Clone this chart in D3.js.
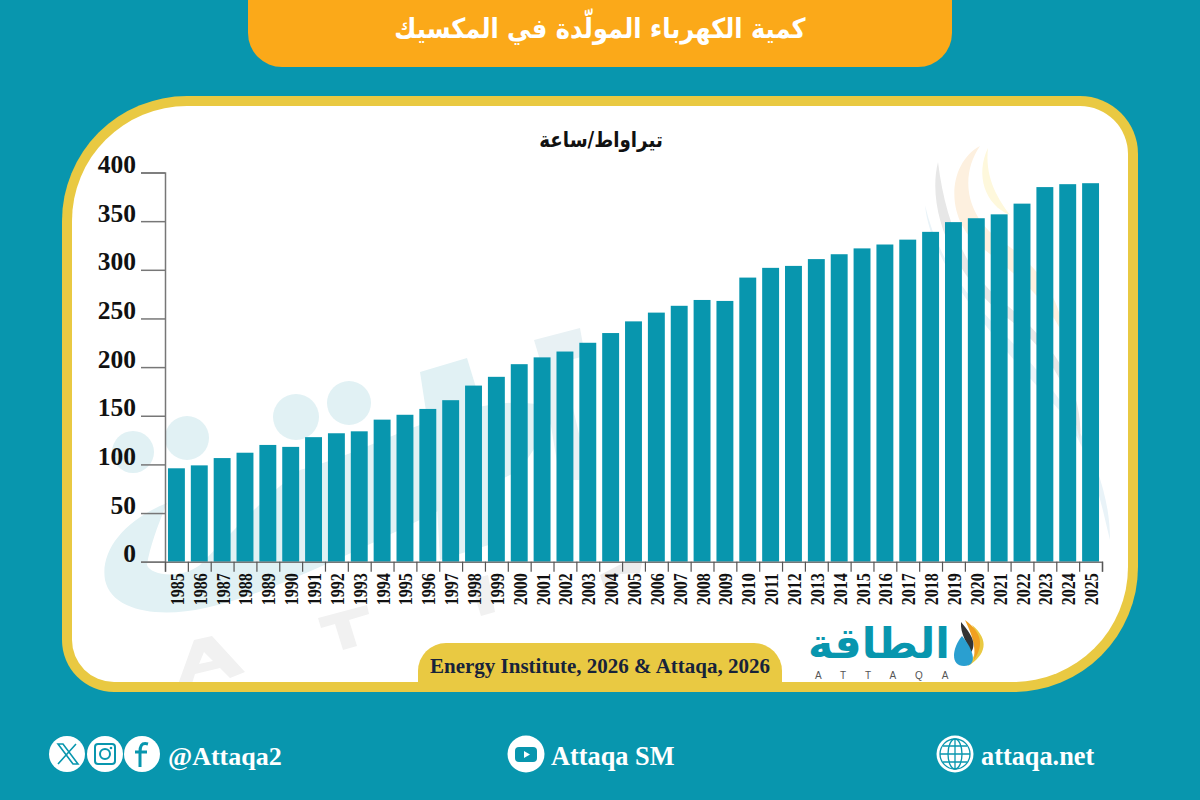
<!DOCTYPE html>
<html lang="ar">
<head>
<meta charset="utf-8">
<title>كمية الكهرباء المولّدة في المكسيك</title>
<script src="https://cdn.jsdelivr.net/npm/d3@7"></script>
<style>
  html, body { margin: 0; padding: 0; background: #0896ae; }
  svg { display: block; }
  .serif { font-family: "Liberation Serif", serif; font-weight: bold; }
  .arabic { font-family: "DejaVu Sans", sans-serif; font-weight: bold; direction: rtl; }
</style>
</head>
<body>
<div id="grafico"></div>
<script>
// Data (terawatt-hours)
const anos = d3.range(1985, 2026).map(String);
const geracao = [96, 99, 106.5, 112, 120, 118, 128, 132, 134, 146, 151, 157, 166, 181, 190,
  203, 210, 216, 225, 235, 247, 256, 263, 269, 268, 292, 302, 304, 311, 316, 322,
  326, 331, 339, 349, 353, 357, 368, 385, 388, 389];
const ticksY = [0, 50, 100, 150, 200, 250, 300, 350, 400];

const titulo = "كمية الكهرباء المولّدة في المكسيك";
const unidade = "تيراواط/ساعة";
const fonte = "Energy Institute, 2026 & Attaqa, 2026";

const TEAL = "#0896ae", YELLOW = "#e9c942", ORANGE = "#fba919", PALE = "#e1f1f4", GREY = "#f1f1f1";

const svg = d3.select("#grafico").append("svg")
  .attr("width", 1200).attr("height", 800);

svg.append("rect").attr("width", 1200).attr("height", 800).attr("fill", TEAL);

// Rounded panel, each corner has its own radius
function painel(x0, y0, x1, y1, tl, tr, br, bl) {
  return `M${x0 + tl},${y0} H${x1 - tr} A${tr},${tr} 0 0 1 ${x1},${y0 + tr}
    V${y1 - br} A${br},${br} 0 0 1 ${x1 - br},${y1} H${x0 + bl}
    A${bl},${bl} 0 0 1 ${x0},${y1 - bl} V${y0 + tl} A${tl},${tl} 0 0 1 ${x0 + tl},${y0} Z`;
}

const formaBranca = painel(72, 106, 1128, 682, 115, 48, 115, 42);
svg.append("path").attr("d", painel(62, 96, 1138, 692, 125, 58, 125, 52)).attr("fill", YELLOW);
svg.append("path").attr("d", formaBranca).attr("fill", "#fff");
svg.append("clipPath").attr("id", "dentro").append("path").attr("d", formaBranca);

// Title tab
svg.append("path").attr("d", painel(248, -40, 952, 67, 0, 0, 34, 34)).attr("fill", ORANGE);
svg.append("text").attr("class", "arabic").attr("transform", "translate(600,38) scale(0.877,1)")
  .attr("text-anchor", "middle").attr("font-size", 27.5).attr("fill", "#fff").text(titulo);

// Watermark behind the bars
const marca = svg.append("g").attr("clip-path", "url(#dentro)");
[[133, 452, 21], [187, 438, 22], [296, 417, 23], [349, 403, 22]].forEach(c => {
  marca.append("circle").attr("cx", c[0]).attr("cy", c[1]).attr("r", c[2]).attr("fill", PALE);
});
// big swoosh
marca.append("path")
  .attr("d", `M167,503 C125,520 100,550 105,580 C112,612 160,618 205,608 C280,592 400,530 520,470
    L560,410 C480,380 380,450 300,470 C260,500 225,540 200,565 C180,580 150,575 147,565 C150,545 160,520 167,503 Z`)
  .attr("fill", PALE);
// upright strokes of the big letters
marca.append("path").attr("d", "M420,372 L467,358 L492,440 L505,540 L440,560 L435,470 Z").attr("fill", PALE);
marca.append("path").attr("d", "M534,340 L580,328 L585,356 L562,362 L590,480 L560,480 L540,360 Z").attr("fill", "#e8f1f4");
// grey letters
marca.append("path").attr("d", "M194,640 L212,636 L245,672 L230,678 L220,668 L195,674 L190,690 L176,690 Z M204,652 L199,664 L213,661 Z")
  .attr("fill", GREY).attr("fill-rule", "evenodd");
marca.append("path").attr("d", "M318,618 L367,605 L369,614 L349,620 L357,646 L343,650 L335,624 L321,628 Z").attr("fill", GREY);
marca.append("path").attr("d", "M470,580 L488,575 L495,612 L481,616 Z").attr("fill", GREY);
marca.append("path").attr("d", "M600,575 L625,562 L642,562 L640,573 L620,574 L605,590 Z").attr("fill", "#ececec");
// flame
[["#e9f3f8", "M925,205 C930,260 985,330 1050,400 C1090,440 1100,500 1110,540 C1110,470 1070,400 1000,330 C960,290 935,250 925,205 Z"],
 ["#e7e7e7", "M938,162 C925,215 960,285 1010,320 C1060,360 1070,400 1080,440 C1085,380 1040,330 1000,300 C965,270 945,220 938,162 Z"],
 ["#fdf0df", "M980,146 C945,165 945,225 985,250 C1010,270 1050,300 1065,340 C1060,290 1030,260 1000,240 C965,215 960,175 980,146 Z"],
 ["#fef8dc", "M988,148 C975,175 985,205 1010,215 C995,195 985,175 988,148 Z"]].forEach(f => {
  marca.append("path").attr("d", f[1]).attr("fill", f[0]);
});

// Scales
const x = d3.scaleBand().domain(anos).range([165, 1102]).paddingInner(0.26).paddingOuter(0.13);
const y = d3.scaleLinear().domain([0, 400]).range([561.7, 172.5]);
// tick marks sit on the edges between the bands
const bordas = d3.scalePoint().domain(anos.concat("fim")).range([165, 1102]);

svg.append("g").selectAll("rect").data(geracao).enter().append("rect")
  .attr("x", (d, i) => x(anos[i]))
  .attr("y", d => y(d))
  .attr("width", x.bandwidth())
  .attr("height", d => y(0) - y(d))
  .attr("fill", TEAL);

// Axes
const eixoY = svg.append("g").attr("transform", "translate(165,0)")
  .call(d3.axisLeft(y).tickValues(ticksY).tickSize(24).tickPadding(5));
eixoY.selectAll("text").attr("class", "serif").attr("font-size", 25.5).attr("fill", "#111").attr("dy", 0);
eixoY.selectAll("line, path").attr("stroke", "#777").attr("stroke-width", 1.5);

const eixoBordas = svg.append("g").attr("transform", `translate(0,${y(0)})`)
  .call(d3.axisBottom(bordas).tickSize(10).tickFormat(""));
eixoBordas.selectAll("line").attr("stroke", "#555").attr("stroke-width", 1.2);
eixoBordas.select("path").attr("stroke", "#777").attr("stroke-width", 1.5);

const eixoX = svg.append("g").attr("transform", `translate(0,${y(0)})`)
  .call(d3.axisBottom(x).tickSize(0));
eixoX.select("path").remove();
eixoX.selectAll("text").attr("class", "serif").attr("font-size", 18.5).attr("fill", "#111")
  .attr("text-anchor", "end").attr("dy", 0)
  .attr("textLength", 32).attr("lengthAdjust", "spacingAndGlyphs")
  .attr("transform", "rotate(-90)")
  .attr("x", -11.5).attr("y", 7.5);

// Unit label
svg.append("text").attr("class", "arabic").attr("transform", "translate(601,147) scale(0.87,1)")
  .attr("text-anchor", "middle").attr("font-size", 21).attr("fill", "#111").text(unidade);

// Source tab
svg.append("path").attr("d", painel(418, 643, 782, 700, 28, 28, 0, 0)).attr("fill", YELLOW);
svg.append("rect").attr("x", 0).attr("y", 692).attr("width", 1200).attr("height", 108).attr("fill", TEAL);
svg.append("text").attr("class", "serif").attr("x", 600).attr("y", 673)
  .attr("text-anchor", "middle").attr("font-size", 21).attr("fill", "#17233a").text(fonte);

// Logo
svg.append("text").attr("class", "arabic").attr("x", 950).attr("y", 658)
  .attr("text-anchor", "start").attr("font-size", 42).attr("fill", TEAL)
  .attr("textLength", 142).attr("lengthAdjust", "spacingAndGlyphs").text("الطاقة");
svg.append("text").attr("x", 815).attr("y", 679).attr("font-family", "Liberation Sans")
  .attr("font-size", 10).attr("fill", "#555").attr("letter-spacing", "19px").text("ATTAQA");
[["#e9c942", "M972,625 C990,640 986,655 968,666 C978,652 980,640 972,625 Z"],
 ["#f0a020", "M965,620 C985,635 982,648 974,660 C976,645 972,635 965,620 Z"],
 ["#333", "M961,622 C975,638 976,646 970,654 C968,642 960,635 961,622 Z"],
 ["#2a9fd0", "M962,636 C952,648 950,666 964,666 C978,666 974,650 962,636 Z"]].forEach(f => {
  svg.append("path").attr("d", f[1]).attr("fill", f[0]);
});

// Footer
const rodape = svg.append("g");
[67, 105, 142].forEach(cx => {
  rodape.append("circle").attr("cx", cx).attr("cy", 754).attr("r", 18).attr("fill", "#fff");
});
rodape.append("path").attr("d", "M58,744 L73,764 L78,764 L63,744 Z M76,744 L58,764")
  .attr("fill", "none").attr("stroke", TEAL).attr("stroke-width", 1.6);
rodape.append("path").attr("d", "M148,744 C141,742 140,747 140,752 V767 M135,752 H147")
  .attr("fill", "none").attr("stroke", TEAL).attr("stroke-width", 3);
rodape.append("rect").attr("x", 95).attr("y", 744).attr("width", 20).attr("height", 20).attr("rx", 3)
  .attr("fill", "none").attr("stroke", TEAL).attr("stroke-width", 2);
rodape.append("circle").attr("cx", 105).attr("cy", 754).attr("r", 5)
  .attr("fill", "none").attr("stroke", TEAL).attr("stroke-width", 2);
rodape.append("circle").attr("cx", 111).attr("cy", 748).attr("r", 1.3).attr("fill", TEAL);

rodape.append("circle").attr("cx", 526).attr("cy", 754).attr("r", 18.5).attr("fill", "#fff");
rodape.append("rect").attr("x", 515).attr("y", 747).attr("width", 22).attr("height", 15).attr("rx", 4).attr("fill", TEAL);
rodape.append("path").attr("d", "M524,751 L530,754.5 L524,758 Z").attr("fill", "#fff");

rodape.append("circle").attr("cx", 955).attr("cy", 754).attr("r", 18.5).attr("fill", "#fff");
const globo = rodape.append("g").attr("fill", "none").attr("stroke", TEAL).attr("stroke-width", 1.3);
globo.append("circle").attr("cx", 955).attr("cy", 754).attr("r", 15);
globo.append("ellipse").attr("cx", 955).attr("cy", 754).attr("rx", 7).attr("ry", 15);
globo.append("path").attr("d", "M955,739 V769 M940,754 H970 M943,746 H967 M943,762 H967");

[["@Attaqa2", 168, 26], ["Attaqa SM", 551, 26.3], ["attaqa.net", 981, 26.3]].forEach(t => {
  rodape.append("text").attr("class", "serif").attr("x", t[1]).attr("y", 765)
    .attr("font-size", t[2]).attr("fill", "#fff").text(t[0]);
});
</script>
</body>
</html>
